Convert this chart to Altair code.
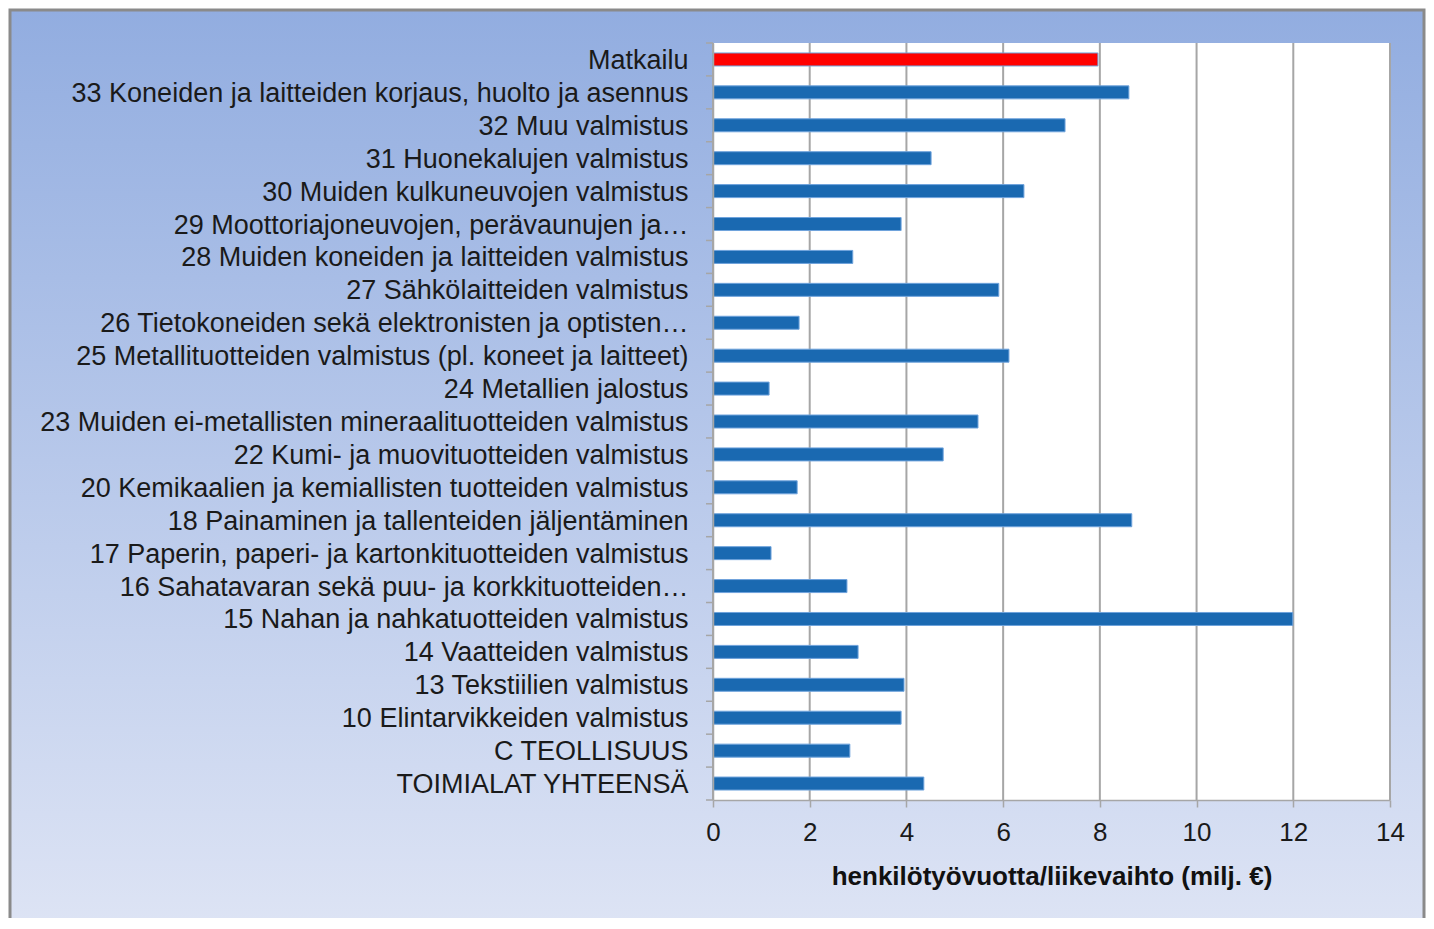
import altair as alt
import pandas as pd

categories = [
    "Matkailu",
    "33 Koneiden ja laitteiden korjaus, huolto ja asennus",
    "32 Muu valmistus",
    "31 Huonekalujen valmistus",
    "30 Muiden kulkuneuvojen valmistus",
    "29 Moottoriajoneuvojen, perävaunujen ja…",
    "28 Muiden koneiden ja laitteiden valmistus",
    "27 Sähkölaitteiden valmistus",
    "26 Tietokoneiden sekä elektronisten ja optisten…",
    "25 Metallituotteiden valmistus (pl. koneet ja laitteet)",
    "24 Metallien jalostus",
    "23 Muiden ei-metallisten mineraalituotteiden valmistus",
    "22 Kumi- ja muovituotteiden valmistus",
    "20 Kemikaalien ja kemiallisten tuotteiden valmistus",
    "18 Painaminen ja tallenteiden jäljentäminen",
    "17 Paperin, paperi- ja kartonkituotteiden valmistus",
    "16 Sahatavaran sekä puu- ja korkkituotteiden…",
    "15 Nahan ja nahkatuotteiden valmistus",
    "14 Vaatteiden valmistus",
    "13 Tekstiilien valmistus",
    "10 Elintarvikkeiden valmistus",
    "C TEOLLISUUS",
    "TOIMIALAT YHTEENSÄ",
]
values = [7.96, 8.60, 7.28, 4.51, 6.43, 3.89, 2.89, 5.91, 1.78, 6.12, 1.16,
          5.48, 4.76, 1.74, 8.66, 1.20, 2.77, 11.99, 3.00, 3.95, 3.89, 2.83, 4.36]
groups = ["Matkailu"] + ["Toimiala"] * (len(categories) - 1)
x_ticks = [0, 2, 4, 6, 8, 10, 12, 14]
x_title = "henkilötyövuotta/liikevaihto  (milj. €)"

W, H = 677, 757
FONT = "Liberation Sans"
GRAY = "#a6a6a6"

bars_df = pd.DataFrame({"cat": categories, "value": values, "group": groups})
grid_df = pd.DataFrame({"value": x_ticks})
tick_df = pd.DataFrame({"cat": categories})
one = pd.DataFrame({"a": [0]})

x_axis = alt.Axis(values=x_ticks, grid=False, domainColor=GRAY, domainWidth=1.5,
                  tickColor=GRAY, tickSize=7, tickWidth=1.5, labelFlush=False,
                  labelFont=FONT, labelFontSize=26, labelColor="#1a1a1a", labelPadding=12,
                  title=x_title, titleFont=FONT, titleFontSize=26, titleFontWeight="bold",
                  titleColor="#111111", titlePadding=18, zindex=1)
x_scale = alt.Scale(domain=[0, 14], nice=False, zero=True)

y_axis = alt.Axis(title=None, ticks=False, domainColor=GRAY, domainWidth=1.5,
                  labelFont=FONT, labelFontSize=27, labelColor="#1a1a1a",
                  labelPadding=25, labelLimit=800, labelOffset=1.5, zindex=1)
y_scale = alt.Scale(paddingInner=0, paddingOuter=0)

bg = alt.Chart(one).mark_rect(
    fill=alt.Gradient(gradient="linear", x1=0, y1=0, x2=0, y2=1,
                      stops=[alt.GradientStop(color="#92ade0", offset=0),
                             alt.GradientStop(color="#dfe5f5", offset=1)]),
    stroke="#8a8a8a", strokeWidth=3,
).encode(x=alt.value(-703), x2=alt.value(711), y=alt.value(-33), y2=alt.value(905))

plot_bg = alt.Chart(one).mark_rect(fill="white").encode(
    x=alt.value(0), x2=alt.value(W), y=alt.value(0), y2=alt.value(H))

grid = alt.Chart(grid_df).mark_rule(color=GRAY, strokeWidth=2).encode(
    x=alt.X("value:Q", scale=x_scale, axis=x_axis))

ticks = alt.Chart(tick_df).mark_rule(color=GRAY, strokeWidth=1.5).encode(
    y=alt.Y("cat:N", sort=categories, bandPosition=0, scale=y_scale, axis=y_axis),
    x=alt.value(-7), x2=alt.value(0))

bottom_tick = alt.Chart(one).mark_rule(color=GRAY, strokeWidth=1.5).encode(
    x=alt.value(-7), x2=alt.value(0), y=alt.value(H))

bars = alt.Chart(bars_df).mark_bar(size=13, stroke="#6fa3dc", strokeWidth=1).encode(
    y=alt.Y("cat:N", sort=categories, scale=y_scale, axis=y_axis),
    x=alt.X("value:Q", scale=x_scale, axis=x_axis),
    color=alt.Color("group:N", scale=alt.Scale(domain=["Matkailu", "Toimiala"],
                                               range=["#ff0000", "#1a69b1"]), legend=None),
)

chart = alt.layer(bg, plot_bg, grid, ticks, bottom_tick, bars).properties(
    width=W, height=H,
    padding={"left": 705, "top": 35, "right": 36, "bottom": 118},
    autosize=alt.AutoSizeParams(type="none"),
).configure_view(stroke=None).configure(background="white")

chart.save("out.html", embed_options={"renderer": "svg", "actions": False})
